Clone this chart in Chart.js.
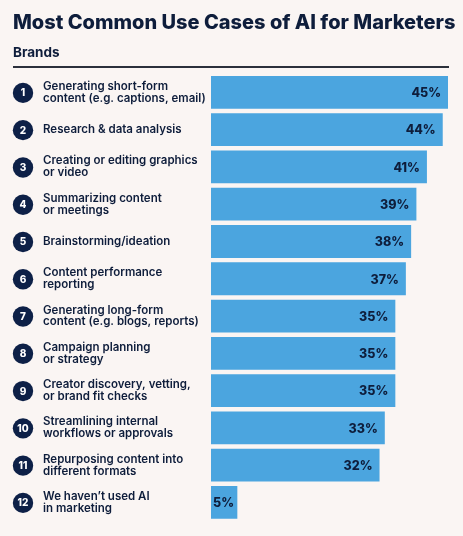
<!DOCTYPE html>
<html>
<head>
<meta charset="utf-8">
<script src="https://cdn.jsdelivr.net/npm/chart.js@4.4.1/dist/chart.umd.min.js"></script>
<style>
  html, body { margin: 0; padding: 0; background: #faf5f3; }
  #wrap { width: 463px; height: 536px; position: relative; }
</style>
</head>
<body>
<div id="wrap"><canvas id="chart"></canvas></div>
<script>
// Data
const title = 'Most Common Use Cases of AI for Marketers';
const subtitle = 'Brands';
const categories = [
    ['Generating short-form', 'content (e.g. captions, email)'],
    'Research & data analysis',
    ['Creating or editing graphics', 'or video'],
    ['Summarizing content', 'or meetings'],
    'Brainstorming/ideation',
    ['Content performance', 'reporting'],
    ['Generating long-form', 'content (e.g. blogs, reports)'],
    ['Campaign planning', 'or strategy'],
    ['Creator discovery, vetting,', 'or brand fit checks'],
    ['Streamlining internal', 'workflows or approvals'],
    ['Repurposing content into', 'different formats'],
    ['We haven\u2019t used AI', 'in marketing']
];
const values = [45, 44, 41, 39, 38, 37, 35, 35, 35, 33, 32, 5];

const NAVY = '#0e1d3b';
const CIRCLE = '#0d2047';
const BAR = '#4ba5df';
const FONT = 'Inter, "Noto Sans", sans-serif';

// Title, subtitle and rule above the plot
const headerPlugin = {
    id: 'header',
    beforeDraw(chart) {
        const ctx = chart.ctx;
        ctx.save();
        ctx.fillStyle = '#faf5f3';
        ctx.fillRect(0, 0, chart.width, chart.height);
        ctx.fillStyle = NAVY;
        ctx.textAlign = 'left';
        ctx.textBaseline = 'alphabetic';
        ctx.font = '800 20px ' + FONT;
        ctx.fillText(title, 13, 28.5);
        ctx.font = '700 13.5px ' + FONT;
        ctx.fillText(subtitle, 13, 57);
        ctx.fillStyle = '#2b303b';
        ctx.fillRect(13, 66, 436, 2);
        ctx.restore();
    }
};

// Numbered circles and value labels
const marksPlugin = {
    id: 'marks',
    afterDatasetsDraw(chart) {
        const ctx = chart.ctx;
        const yScale = chart.scales.y;
        const meta = chart.getDatasetMeta(0);
        ctx.save();
        categories.forEach((c, i) => {
            const y = yScale.getPixelForTick(i);
            ctx.beginPath();
            ctx.arc(23, y + 0.5, 10.2, 0, Math.PI * 2);
            ctx.fillStyle = CIRCLE;
            ctx.fill();
            ctx.fillStyle = '#ffffff';
            ctx.font = '800 10px ' + FONT;
            ctx.textAlign = 'center';
            ctx.textBaseline = 'middle';
            ctx.fillText(String(i + 1), 23, y + 1);

            const bar = meta.data[i];
            const txt = values[i] + '%';
            ctx.font = '800 12.5px ' + FONT;
            ctx.fillStyle = NAVY;
            const w = ctx.measureText(txt).width;
            let x = bar.x - 7;
            if (x - w < bar.base + 2) x = bar.base + 2 + w;
            ctx.textAlign = 'right';
            ctx.fillText(txt, x, y + 1);
        });
        ctx.restore();
    }
};

new Chart(document.getElementById('chart'), {
    type: 'bar',
    data: {
        labels: categories,
        datasets: [{
            data: values,
            backgroundColor: BAR,
            borderWidth: 0,
            barPercentage: 0.88,
            categoryPercentage: 1.0
        }]
    },
    options: {
        indexAxis: 'y',
        responsive: true,
        maintainAspectRatio: false,
        animation: false,
        layout: { padding: { left: 43, right: 15, top: 73.75, bottom: 12.25 } },
        plugins: {
            legend: { display: false },
            tooltip: { enabled: false }
        },
        scales: {
            x: {
                min: 0,
                max: 45,
                display: false
            },
            y: {
                grid: { display: false },
                border: { display: false },
                afterFit: (scale) => { scale.width = 168; },
                ticks: {
                    crossAlign: 'far',
                    color: NAVY,
                    font: { family: FONT, size: 11.5, weight: '600', lineHeight: 1.04 }
                }
            }
        }
    },
    plugins: [headerPlugin, marksPlugin]
});
</script>
</body>
</html>
